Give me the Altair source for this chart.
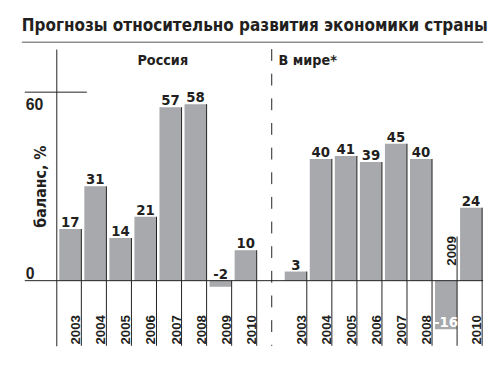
import altair as alt
import numpy as np
import pandas as pd

TITLE = "Прогнозы относительно развития экономики страны"
Y_TITLE = "баланс, %"
PANELS = ["Россия", "В мире*"]
YEARS = ["2003", "2004", "2005", "2006", "2007", "2008", "2009", "2010"]
RUSSIA = [17, 31, 14, 21, 57, 58, -2, 10]
WORLD = [3, 40, 41, 39, 45, 40, -16, 24]
Y_TICKS = [0, 60]

BAR = "#a7a9ac"
INK = "#231f20"
Y_MIN, Y_MAX = -21.4, 76.1
W, H = 432, 301

COND = "DejaVu Sans Condensed"
HEAVY = "DejaVu Sans"
SANS = "Liberation Sans"

rows = []
for panel, vals in zip(PANELS, [RUSSIA, WORLD]):
    for yr, v in zip(YEARS, vals):
        rows.append({"key": f"{panel} {yr}", "panel": panel, "year": yr, "value": v})
    if panel == PANELS[0]:
        rows.append({"key": "gap", "panel": "", "year": "", "value": np.nan})
df = pd.DataFrame(rows)
keys = list(df["key"])

bars = df.dropna().copy()
deep = bars["value"] < -5
bars["label"] = bars["value"].astype(int).astype(str)
bars["label_y"] = np.where(deep, bars["value"], np.maximum(bars["value"], 0))
bars["label_color"] = np.where(deep, "white", INK)
bars["year_y"] = np.where(deep, 4.9, Y_MIN + 0.4)
bars["sep_top"] = np.where(deep, 14.5, np.maximum(bars["value"], 0))
bars["bottom"] = Y_MIN

gap = df[df["key"] == "gap"].copy()
ticks = pd.DataFrame({"v": Y_TICKS})

xs = alt.Scale(domain=keys, paddingInner=0, paddingOuter=0)
ys = alt.Scale(domain=[Y_MIN, Y_MAX], nice=False, zero=False)


def X(bp=0.5):
    return alt.X("key:N", scale=xs, axis=None, bandPosition=bp)


base = alt.Chart(bars)

bar_layer = base.mark_bar(color=BAR, width=alt.RelativeBandSize(0.88), xOffset=1.5).encode(
    x=alt.X("key:N", scale=xs, axis=None),
    y=alt.Y(
        "value:Q",
        scale=ys,
        axis=alt.Axis(
            title=Y_TITLE, values=Y_TICKS, labels=False, ticks=False, grid=False,
            domain=True, domainColor=INK, domainWidth=1,
            titleX=-11, titleY=139, titleAngle=270, titleAlign="center",
            titleBaseline="alphabetic", titleFont=COND, titleFontSize=16,
            titleFontWeight="bold", titleColor=INK,
        ),
    ),
    y2=alt.datum(0),
)

sep_layer = base.mark_rule(color=INK, strokeWidth=1).encode(
    x=X(1), y=alt.Y("sep_top:Q", scale=ys), y2="bottom:Q"
)

val_layer = base.mark_text(
    font=HEAVY, fontWeight="bold", fontSize=13.5, baseline="alphabetic", dy=-2, xOffset=1.5
).encode(
    x=X(0.5), y=alt.Y("label_y:Q", scale=ys), text="label:N",
    color=alt.Color("label_color:N", scale=None),
)

year_layer = base.mark_text(
    font=SANS, fontWeight="bold", fontSize=13.5, angle=270, align="left",
    baseline="alphabetic", color=INK,
).encode(x=X(0.96), y=alt.Y("year_y:Q", scale=ys), text="year:N")

dash_layer = alt.Chart(gap).mark_rule(color=INK, strokeWidth=1, strokeDash=[12, 13]).encode(
    x=X(0.6), y=alt.value(0), y2=alt.value(H)
)

tchart = alt.Chart(ticks)
zero_line = tchart.transform_filter("datum.v == 0").mark_rule(color=INK, strokeWidth=1).encode(
    y=alt.Y("v:Q", scale=ys), x=alt.value(-32), x2=alt.value(W + 1)
)
top_line = tchart.transform_filter("datum.v != 0").mark_rule(color=INK, strokeWidth=1, yOffset=-6).encode(
    y=alt.Y("v:Q", scale=ys), x=alt.value(-32), x2=alt.value(31)
)
zero_lab = tchart.transform_filter("datum.v == 0").mark_text(
    font=SANS, fontWeight="bold", fontSize=16, align="left", baseline="alphabetic", dy=-2, color=INK
).encode(y=alt.Y("v:Q", scale=ys), x=alt.value(-31), text="v:Q")
top_lab = tchart.transform_filter("datum.v != 0").mark_text(
    font=SANS, fontWeight="bold", fontSize=16, align="left", baseline="alphabetic", dy=12, color=INK
).encode(y=alt.Y("v:Q", scale=ys), x=alt.value(-31), text="v:Q")

title_df = pd.DataFrame({"t": [TITLE]})
title_layer = alt.Chart(title_df).mark_text(
    font=COND, fontWeight="bold", fontSize=17.2, align="left", baseline="alphabetic", color=INK
).encode(x=alt.value(-35), y=alt.value(-18), text="t:N")
underline = alt.Chart(title_df).mark_rule(color="#555555", strokeWidth=1).encode(
    x=alt.value(-35), x2=alt.value(W + 1), y=alt.value(-7)
)

p1 = alt.Chart(pd.DataFrame({"p": [PANELS[0]]})).mark_text(
    font=COND, fontWeight="bold", fontSize=14.5, align="center", baseline="alphabetic", color=INK
).encode(x=alt.value(108), y=alt.value(16), text="p:N")
p2 = alt.Chart(pd.DataFrame({"p": [PANELS[1]]})).mark_text(
    font=COND, fontWeight="bold", fontSize=14.5, align="center", baseline="alphabetic", color=INK
).encode(x=alt.value(255), y=alt.value(16), text="p:N")

chart = alt.layer(
    bar_layer, sep_layer, dash_layer, zero_line, top_line, val_layer, year_layer,
    zero_lab, top_lab, title_layer, underline, p1, p2,
).properties(
    width=W, height=H,
    autosize=alt.AutoSizeParams(type="none"),
    padding={"left": 49, "top": 39, "right": 10, "bottom": 30},
    background="white",
).configure_view(strokeWidth=0)

chart.save("out.html", embed_options={"renderer": "svg", "actions": False})
